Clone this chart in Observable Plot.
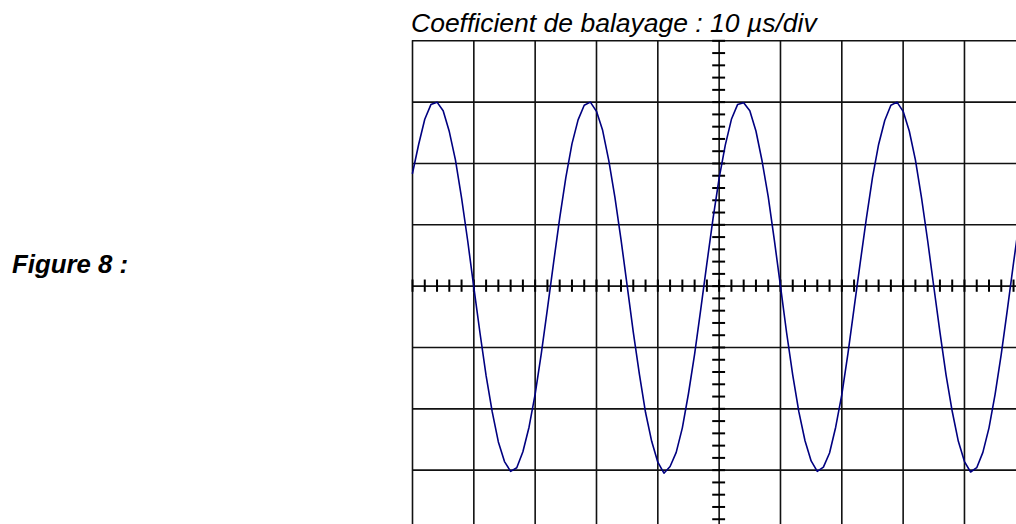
<!DOCTYPE html>
<html>
<head>
<meta charset="utf-8">
<script src="https://cdn.jsdelivr.net/npm/d3@7"></script>
<script src="https://cdn.jsdelivr.net/npm/@observablehq/plot@0.6"></script>
<style>
  html, body { margin: 0; padding: 0; background: #fff; overflow: hidden; width: 1016px; height: 524px; }
  #wrap { position: relative; width: 1016px; height: 524px; }
  #wrap svg { position: absolute; left: 0; top: 0; }
  .lbl { position: absolute; font-family: "Liberation Sans", Arial, sans-serif; line-height: 1; white-space: nowrap; color: #000; }
  #title { left: 411px; top: 10px; font-size: 26.5px; font-style: italic; }
  #fig { left: 12px; top: 252px; font-size: 25.8px; font-style: italic; font-weight: bold; }
</style>
</head>
<body>
<div id="wrap">
  <div class="lbl" id="title">Coefficient de balayage : 10 µs/div</div>
  <div class="lbl" id="fig">Figure 8 :</div>
</div>
<script>
// Screen divisions (oscilloscope graticule)
const gridX = [-5, -4, -3, -2, -1, 0, 1, 2, 3, 4, 5];
const gridY = [-4, -3, -2, -1, 0, 1, 2, 3, 4];

// Sample times (divisions from screen centre)
const timeDiv = [
  -5.0, -4.9, -4.8, -4.7, -4.6, -4.5, -4.4, -4.3, -4.2, -4.1,
  -4.0, -3.9, -3.8, -3.7, -3.6, -3.5, -3.4, -3.3, -3.2, -3.1,
  -3.0, -2.9, -2.8, -2.7, -2.6, -2.5, -2.4, -2.3, -2.2, -2.1,
  -2.0, -1.9, -1.8, -1.7, -1.6, -1.5, -1.4, -1.3, -1.2, -1.1,
  -1.0, -0.9, -0.8, -0.7, -0.6, -0.5, -0.4, -0.3, -0.2, -0.1,
   0.0,  0.1,  0.2,  0.3,  0.4,  0.5,  0.6,  0.7,  0.8,  0.9,
   1.0,  1.1,  1.2,  1.3,  1.4,  1.5,  1.6,  1.7,  1.8,  1.9,
   2.0,  2.1,  2.2,  2.3,  2.4,  2.5,  2.6,  2.7,  2.8,  2.9,
   3.0,  3.1,  3.2,  3.3,  3.4,  3.5,  3.6,  3.7,  3.8,  3.9,
   4.0,  4.1,  4.2,  4.3,  4.4,  4.5,  4.6,  4.7,  4.8,  4.9,
   5.0
];

// Trace values (vertical divisions)
const voltDiv = [
   1.84,  2.31,  2.72,  2.96,  3.00,  2.86,  2.52,  2.06,  1.44,  0.74,
  -0.02, -0.76, -1.46, -2.05, -2.54, -2.86, -3.02, -2.96, -2.70, -2.30,
  -1.76, -1.10, -0.37,  0.38,  1.11,  1.77,  2.32,  2.71,  2.95,  3.00,
   2.85,  2.54,  2.05,  1.45,  0.76,  0.01, -0.75, -1.44, -2.06, -2.53,
  -2.87, -3.05, -2.94, -2.71, -2.31, -1.75, -1.11, -0.38,  0.37,  1.10,
   1.76,  2.30,  2.72,  2.96,  2.99,  2.86,  2.53,  2.04,  1.46,  0.75,
   0.00, -0.76, -1.45, -2.05, -2.52, -2.85, -3.02, -2.95, -2.72, -2.30,
  -1.77, -1.10, -0.36,  0.38,  1.10,  1.77,  2.31,  2.70,  2.95,  3.00,
   2.85,  2.53,  2.06,  1.44,  0.74, -0.01, -0.75, -1.45, -2.04, -2.53,
  -2.86, -3.03, -2.96, -2.71, -2.31, -1.76, -1.11, -0.38,  0.38,  1.10,
   1.77
];

// Sub-division tick marks on the central axes (every 1/5 division)
const minorX = d3.range(-50, 51, 2).map(d => d / 10);
const minorY = d3.range(-40, 41, 2).map(d => d / 10);

const trace = timeDiv.map((t, i) => ({t, v: voltDiv[i]}));

const chart = Plot.plot({
  width: 1016,
  height: 524,
  marginLeft: 0, marginRight: 0, marginTop: 0, marginBottom: 0,
  x: {domain: [-5, 5], range: [412, 1025.3], axis: null},
  y: {domain: [-4, 4], range: [531, 40.3], axis: null},
  style: {background: "#fff", overflow: "hidden"},
  marks: [
    Plot.ruleX(gridX, {x: d => d, y1: -4, y2: 4, stroke: "#111", strokeWidth: 1.6}),
    Plot.ruleY(gridY, {y: d => d, x1: -5, x2: 5, stroke: "#111", strokeWidth: 1.6}),
    Plot.ruleX(minorX, {x: d => d, y1: -0.1, y2: 0.1, stroke: "#000", strokeWidth: 2}),
    Plot.ruleY(minorY, {y: d => d, x1: -0.105, x2: 0.105, stroke: "#000", strokeWidth: 2}),
    Plot.line(trace, {x: "t", y: "v", stroke: "#000080", strokeWidth: 1.6, curve: "linear"})
  ]
});
document.getElementById("wrap").prepend(chart);
</script>
</body>
</html>
